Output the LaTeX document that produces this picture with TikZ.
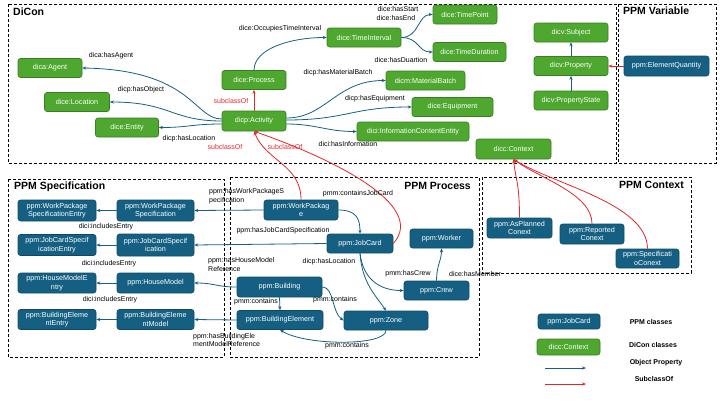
\documentclass[tikz,border=0pt]{standalone}
\usepackage{fontspec}
\setmainfont{Liberation Sans}
\usetikzlibrary{arrows.meta,positioning}
\definecolor{dcgreen}{HTML}{4EA72E}
\definecolor{dcedge}{HTML}{3A7D22}
\definecolor{ppmblue}{HTML}{156082}
\definecolor{ppmedge}{HTML}{0E4A66}
\definecolor{subred}{HTML}{E3262B}

\begin{document}
\begin{tikzpicture}
[x=1pt,y=-1pt,
dicon/.style={rectangle,rounded corners=2.5pt,draw=dcedge,fill=dcgreen,text=white,
  font=\fontsize{7.2}{8.5}\selectfont,minimum height=19pt,inner sep=1pt,line width=0.6pt,align=center},
ppm/.style={dicon,draw=ppmedge,fill=ppmblue},
groupbox/.style={draw,dash pattern=on 3pt off 2pt,line width=0.7pt},
boxtitle/.style={font=\fontsize{10.5}{12}\bfseries\selectfont,inner sep=0pt},
lbl/.style={font=\fontsize{7}{8.5}\selectfont,inner sep=0pt},
sublbl/.style={lbl,text=subred},
legtext/.style={font=\fontsize{7}{8.5}\bfseries\selectfont,inner sep=0pt},
rel/.style={-{Stealth[length=4pt,width=3.2pt]},draw=ppmblue,line width=0.8pt},
sub/.style={rel,draw=subred}]
\useasboundingbox (0,0) rectangle (720,405);

% group frames
\draw[groupbox] (8,4) rectangle (616,163);
\draw[groupbox] (618,4) rectangle (716,163);
\draw[groupbox] (8,179) rectangle (224,357);
\draw[groupbox] (230,177) rectangle (479,357);
\draw[groupbox] (482,177) rectangle (691,273);
\node[boxtitle,anchor=west] (tdicon) at (13,12) {DiCon};
\node[boxtitle,anchor=west] (tvar) at (623,11) {PPM Variable};
\node[boxtitle,anchor=west] (tspec) at (14,187) {PPM Specification};
\node[boxtitle,anchor=east] (tproc) at (471,186) {PPM Process};
\node[boxtitle,anchor=east] (tctx) at (684,185) {PPM Context};

% DiCon classes
\node[dicon,minimum width=64pt] (agent) at (50,68) {dica:Agent};
\node[dicon,minimum width=65pt] (location) at (77,102) {dice:Location};
\node[dicon,minimum width=63pt] (entity) at (127,127.5) {dice:Entity};
\node[dicon,minimum width=64pt,minimum height=20pt] (activity) at (254,121) {dicp:Activity};
\node[dicon,minimum width=64pt] (process) at (254,80) {dice:Process};
\node[dicon,minimum width=74pt] (timeint) at (364,37.5) {dice:TimeInterval};
\node[dicon,minimum width=64pt] (timepoint) at (465,14.5) {dice:TimePoint};
\node[dicon,minimum width=73pt] (timedur) at (469.5,52) {dice:TimeDuration};
\node[dicon,minimum width=79pt] (matbatch) at (425.5,80.5) {dicm:MaterialBatch};
\node[dicon,minimum width=81pt] (equipment) at (452.5,107) {dice:Equipment};
\node[dicon,minimum width=112pt] (infoent) at (413,131.5) {dici:InformationContentEntity};
\node[dicon,minimum width=75pt,minimum height=20pt] (context) at (513.5,149) {dicc:Context};
\node[dicon,minimum width=74pt] (subject) at (571,32.5) {dicv:Subject};
\node[dicon,minimum width=74pt] (property) at (571,66) {dicv:Property};
\node[dicon,minimum width=74pt] (propstate) at (571,100.5) {dicv:PropertyState};
\node[ppm,minimum width=85pt,minimum height=20pt] (elemqty) at (666.5,66) {ppm:ElementQuantity};

% PPM specification
\node[ppm,minimum width=78pt,minimum height=21pt] (wpsentry) at (57,210.5) {ppm:WorkPackage\\SpecificationEntry};
\node[ppm,minimum width=77pt,minimum height=21pt] (wpspec) at (155.5,210.5) {ppm:WorkPackage\\Specification};
\node[ppm,minimum width=78pt,minimum height=21pt] (jcsentry) at (57,245) {ppm:JobCardSpecif\\icationEntry};
\node[ppm,minimum width=77pt,minimum height=22pt] (jcspec) at (155.5,245) {ppm:JobCardSpecif\\ication};
\node[ppm,minimum width=78pt,minimum height=20pt] (hmentry) at (57,283) {ppm:HouseModelE\\ntry};
\node[ppm,minimum width=77pt,minimum height=20pt] (hmodel) at (155.5,283) {ppm:HouseModel};
\node[ppm,minimum width=78pt,minimum height=20pt] (beentry) at (57,319.5) {ppm:BuildingEleme\\ntEntry};
\node[ppm,minimum width=77pt,minimum height=20pt] (bemodel) at (155.5,319.5) {ppm:BuildingEleme\\ntModel};

% PPM process
\node[ppm,minimum width=74pt,minimum height=20pt] (workpkg) at (301,210) {ppm:WorkPackag\\e};
\node[ppm,minimum width=66pt] (jobcard) at (360,243.5) {ppm:JobCard};
\node[ppm,minimum width=63pt] (worker) at (441.5,238.5) {ppm:Worker};
\node[ppm,minimum width=65pt] (crew) at (436.5,290.5) {ppm:Crew};
\node[ppm,minimum width=85pt,minimum height=20pt] (building) at (279.5,287) {ppm:Building};
\node[ppm,minimum width=86pt] (buildel) at (280,320) {ppm:BuildingElement};
\node[ppm,minimum width=84pt] (zone) at (386,320.5) {ppm:Zone};

% PPM context
\node[ppm,minimum width=65pt,minimum height=20pt] (asplanned) at (519.5,228) {ppm:AsPlanned\\Conext};
\node[ppm,minimum width=64pt,minimum height=20pt] (reported) at (592,234) {ppm:Reported\\Conext};
\node[ppm,minimum width=63pt,minimum height=19pt] (specctx) at (647.5,258.5) {ppm:Specificati\\oConext};

% DiCon relations
\draw[rel] ([yshift=2pt]activity.west) .. controls +(-28,0) and +(110,2) .. (agent.east);
\draw[rel] (activity.west) .. controls +(-50,0) and +(60,0) .. (location.east);
\draw[rel] ([yshift=-3pt]activity.west) .. controls +(-30,0) and +(30,0) .. (entity.east);
\draw[sub] (activity.north) -- (process.south);
\draw[rel] (process.north) .. controls +(0,-22) and +(-35,0) .. (timeint.west);
\draw[rel] (timeint.east) .. controls +(18,0) and +(-15,0) .. (timepoint.west);
\draw[rel] (timeint.east) .. controls +(18,0) and +(-15,0) .. (timedur.west);
\draw[rel] ([yshift=3pt]activity.east) .. controls +(40,0) and +(-50,0) .. (matbatch.west);
\draw[rel] ([yshift=1pt]activity.east) .. controls +(60,0) and +(-60,0) .. (equipment.west);
\draw[rel] ([yshift=-3pt]activity.east) .. controls +(30,0) and +(-30,0) .. (infoent.west);
\draw[rel] (property.north) -- (subject.south);
\draw[rel] (propstate.north) -- (property.south);
\draw[sub] (elemqty.west) -- (property.east);

% subclass links into DiCon
\draw[sub] (workpkg.north) .. controls +(0,-35) and +(12,30) .. (activity.south);
\draw[sub] (jobcard.east) .. controls +(35,-39) and +(75,26) .. (activity.south);
\draw[sub] (asplanned.north) .. controls +(0,-35) and +(2,20) .. (context.south);
\draw[sub] (reported.north) .. controls +(0,-30) and +(26,19) .. (context.south);
\draw[sub] (specctx.north) .. controls +(0,-45) and +(40,25) .. (context.south);

% specification relations
\draw[rel] (wpspec.west) -- (wpsentry.east);
\draw[rel] (jcspec.west) -- (jcsentry.east);
\draw[rel] (hmodel.west) -- (hmentry.east);
\draw[rel] (bemodel.west) -- (beentry.east);
\draw[rel] (workpkg.west) -- (wpspec.east);
\draw[rel] (jobcard.west) -- (jcspec.east);
\draw[rel] (building.west) .. controls +(-20,0) and +(20,0) .. (hmodel.east);
\draw[rel] (buildel.west) -- (bemodel.east);

% process relations
\draw[rel] (workpkg.east) .. controls +(18,0) and +(0,-15) .. (jobcard.north);
\draw[rel] (building.south) -- (buildel.north);
\draw[rel] (building.east) .. controls +(12,0) and +(-12,-8) .. (zone.west);
\draw[rel] (zone.south) .. controls +(0,16) and +(25,16) .. (buildel.south);
\draw[rel] (jobcard.south) .. controls +(2,30) and +(-10,-15) .. (zone.north);
\draw[rel] (jobcard.south) .. controls +(3,25) and +(-25,0) .. (crew.west);
\draw[rel] (crew.north) .. controls +(0,-15) and +(0,12) .. (worker.south);

% relation labels
\node[lbl] (lhasagent) at (111,56) {dica:hasAgent};
\node[lbl] (lhasobject) at (141,90) {dicp:hasObject};
\node[lbl] (lhasloc) at (189,139) {dicp:hasLocation};
\node[sublbl] (lsubproc) at (231,101) {subclassOf};
\node[lbl] (loccupies) at (280,29) {dice:OccupiesTimeInterval};
\node[lbl] (lhasstart) at (398,8.5) {dice:hasStart};
\node[lbl] (lhasend) at (396,18) {dice:hasEnd};
\node[lbl] (lhasdur) at (401,60) {dice:hasDuartion};
\node[lbl] (lhasmat) at (338,73) {dicp:hasMaterialBatch};
\node[lbl] (lhasequip) at (375,99) {dicp:hasEquipment};
\node[lbl] (lhasinfo) at (348,144) {dici:hasInformation};
\node[sublbl] (lsubwp) at (225,147) {subclassOf};
\node[sublbl] (lsubjc) at (285,147) {subclassOf};
\node[lbl] (linc1) at (106,227) {dici:includesEntry};
\node[lbl] (linc2) at (109,264) {dici:includesEntry};
\node[lbl] (linc3) at (110,300) {dici:includesEntry};
\node[lbl,anchor=west,align=left] (lhaswps) at (209,196) {ppm:hasWorkPackageS\\pecification};
\node[lbl] (lcontjc) at (358,194) {pmm:containsJobCard};
\node[lbl] (lhasjcs) at (283,231) {ppm:hasJobCardSpecification};
\node[lbl,anchor=west,align=left] (lhashm) at (208,264.5) {ppm:hasHouseModel\\Reference};
\node[lbl,anchor=west,align=left] (lhasbem) at (193,340) {ppm:hasBuildingEle\\mentModelReference};
\node[lbl] (lcont1) at (256,302) {pmm:contains};
\node[lbl] (lcont2) at (335,300) {pmm:contains};
\node[lbl] (lcont3) at (347,346) {pmm:contains};
\node[lbl] (lhasloc2) at (329,262) {dicp:hasLocation};
\node[lbl] (lhascrew) at (408,274) {pmm:hasCrew};
\node[lbl] (lhasmember) at (475,274) {dice:hasMember};

% legend
\node[ppm,minimum width=62pt,minimum height=15pt] (legppm) at (569,321.5) {ppm:JobCard};
\node[dicon,minimum width=63pt,minimum height=16pt] (legdicon) at (568.5,347) {dicc:Context};
\node[legtext] (legppmtxt) at (651,322) {PPM classes};
\node[legtext] (legdicontxt) at (653,345) {DiCon classes};
\node[legtext] (legreltxt) at (656,363) {Object Property};
\node[legtext] (legsubtxt) at (654,379) {SubclassOf};
\coordinate (relstart) at (545,368);
\coordinate (relend) at (586,368);
\coordinate (substart) at (545,384);
\coordinate (subend) at (586,384);
\draw[rel] (relstart) -- (relend);
\draw[sub] (substart) -- (subend);
\end{tikzpicture}
\end{document}
